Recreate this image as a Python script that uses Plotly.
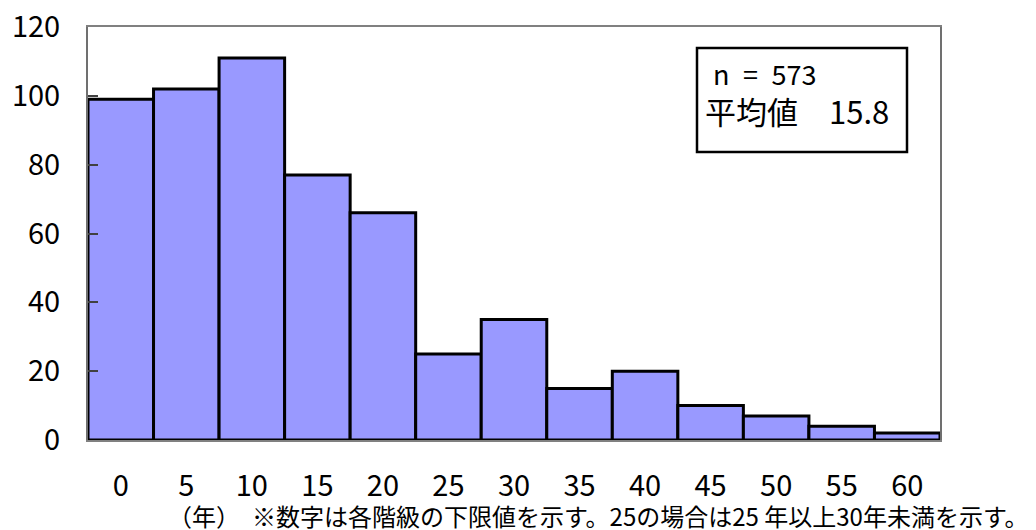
import plotly.graph_objects as go

# Data
class_labels = ["0", "5", "10", "15", "20", "25", "30", "35", "40", "45", "50", "55", "60"]
counts = [99, 102, 111, 77, 66, 25, 35, 15, 20, 10, 7, 4, 2]
y_ticks = [0, 20, 40, 60, 80, 100, 120]
n_text = "n\u2002=\u2002573"
mean_text = "平均値\u300015.8"
footnote = "（年）\u3000※数字は各階級の下限値を示す。25の場合は25 年以上30年未満を示す。"

FONT = "Noto Sans CJK JP"
# The page body has an 8px margin, so the figure starts at (8, 8) in the window.
OFF = 8
W, H = 1036 - OFF, 530 - OFF
# plot area in window pixels: x 88..940, y 27..440
PX0, PX1, PY0, PY1 = 88, 940, 27, 440
L, R, T, B = PX0 - OFF, W + OFF - PX1, PY0 - OFF, H + OFF - PY1
pw, ph = PX1 - PX0, PY1 - PY0

def px_x(x):
    return (x - PX0) / pw

def px_y(y):
    return (PY1 - y) / ph

positions = list(range(len(class_labels)))

fig = go.Figure(
    go.Bar(
        x=positions,
        y=counts,
        width=1,
        marker=dict(color="#9999FF", line=dict(color="black", width=3)),
        hoverinfo="skip",
    )
)

fig.update_layout(
    width=W,
    height=H,
    margin=dict(l=L, r=R, t=T, b=B, autoexpand=False),
    plot_bgcolor="white",
    paper_bgcolor="white",
    showlegend=False,
    font=dict(family=FONT, color="black"),
)

fig.update_xaxes(
    range=[-0.5, len(class_labels) - 0.5],
    tickmode="array",
    tickvals=positions,
    ticktext=class_labels,
    ticks="",
    showgrid=False,
    zeroline=False,
    showline=True,
    linecolor="#808080",
    linewidth=2,
    mirror=True,
    tickfont=dict(family=FONT, size=29, color="black"),
    ticklabelstandoff=19,
    ticklabeloverflow="allow",
)

fig.update_yaxes(
    range=[0, 120],
    tickmode="array",
    tickvals=y_ticks,
    ticks="inside",
    ticklen=10,
    tickwidth=1.5,
    tickcolor="#404040",
    showgrid=False,
    zeroline=False,
    showline=True,
    linecolor="#707070",
    linewidth=2,
    mirror=True,
    tickfont=dict(family=FONT, size=29, color="black"),
    ticklabelstandoff=20,
    ticklabeloverflow="allow",
)

# Info box
fig.add_shape(
    type="rect",
    xref="paper", yref="paper",
    x0=px_x(697), x1=px_x(907), y0=px_y(152), y1=px_y(48),
    line=dict(color="black", width=2.5),
    fillcolor="white",
)
fig.add_annotation(
    xref="paper", yref="paper",
    x=px_x(711), y=px_y(73),
    xanchor="left", yanchor="middle",
    text=n_text, showarrow=False,
    font=dict(family=FONT, size=27, color="black"),
)
fig.add_annotation(
    xref="paper", yref="paper",
    x=px_x(703), y=px_y(110),
    xanchor="left", yanchor="middle",
    text=mean_text, showarrow=False,
    font=dict(family=FONT, size=31, color="black"),
)

# Footnote
fig.add_annotation(
    xref="paper", yref="paper",
    x=px_x(1031), y=px_y(516),
    xanchor="right", yanchor="middle",
    text=footnote, showarrow=False,
    font=dict(family=FONT, size=24, color="black"),
)

fig.write_html("out.html")
